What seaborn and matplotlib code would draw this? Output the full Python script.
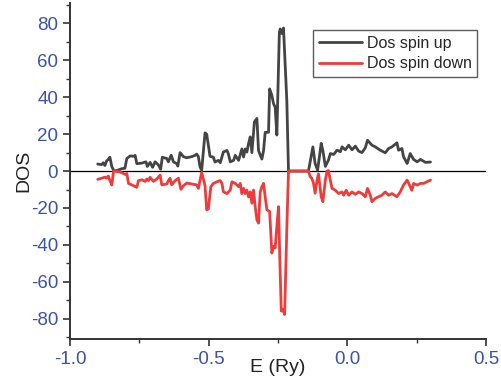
import numpy as np
import pandas as pd
import matplotlib
matplotlib.use("Agg")
import matplotlib.pyplot as plt
import seaborn as sns

# Spin up (E in Ry, DOS)
e_up = [-0.900, -0.886, -0.880, -0.874, -0.868, -0.862, -0.856, -0.849, -0.841, -0.827,
        -0.813, -0.802, -0.795, -0.783, -0.771, -0.765, -0.759, -0.741, -0.726, -0.721,
        -0.711, -0.702, -0.693, -0.681, -0.673, -0.667, -0.651, -0.645, -0.635, -0.627,
        -0.615, -0.611, -0.603, -0.591, -0.579, -0.561, -0.549, -0.543, -0.537, -0.531,
        -0.525, -0.513, -0.507, -0.495, -0.483, -0.477, -0.465, -0.458, -0.447, -0.434,
        -0.429, -0.422, -0.410, -0.404, -0.392, -0.380, -0.374, -0.368, -0.362, -0.356,
        -0.350, -0.344, -0.335, -0.326, -0.320, -0.308, -0.302, -0.296, -0.284, -0.280,
        -0.272, -0.266, -0.260, -0.254, -0.245, -0.242, -0.236, -0.230, -0.218, -0.212,
        -0.140, -0.124, -0.116, -0.107, -0.094, -0.088, -0.079, -0.068, -0.061, -0.049,
        -0.037, -0.025, -0.019, -0.007, 0.005, 0.017, 0.029, 0.041, 0.053, 0.065,
        0.073, 0.089, 0.101, 0.119, 0.137, 0.149, 0.161, 0.179, 0.185, 0.197,
        0.203, 0.216, 0.227, 0.239, 0.252, 0.264, 0.282, 0.300]
dos_up = [3.8, 3.5, 4.5, 3.0, 5.5, 6.3, 7.5, 2.3, 0.0, 0.5,
          1.3, 1.5, 6.8, 8.2, 8.0, 8.5, 4.0, 4.3, 5.0, 2.5,
          4.7, 2.0, 5.0, 3.3, 1.0, 7.5, 6.8, 5.0, 8.6, 5.0,
          4.0, 2.7, 10.0, 7.8, 7.2, 7.8, 8.5, 9.2, 7.8, 2.2,
          0.5, 20.7, 20.0, 8.0, 7.5, 4.9, 5.8, 4.5, 10.3, 11.2,
          9.4, 5.0, 5.8, 8.5, 5.8, 12.0, 7.6, 12.0, 10.3, 14.9,
          18.5, 10.0, 26.6, 28.5, 11.0, 6.5, 11.0, 21.0, 21.0, 44.5,
          41.0, 36.5, 34.6, 19.5, 75.0, 77.0, 74.5, 77.5, 38.0, 0.0,
          0.0, 13.1, 4.1, 0.5, 15.0, 11.0, 2.5, 5.9, 9.5, 9.0,
          11.3, 10.5, 13.1, 11.5, 14.0, 11.5, 13.5, 10.8, 10.0, 12.6,
          16.7, 14.0, 13.1, 11.3, 9.9, 12.2, 13.1, 15.3, 11.3, 12.2,
          7.7, 4.1, 9.5, 6.3, 5.0, 6.3, 4.7, 4.9]

# Spin down (E in Ry, DOS)
e_dn = [-0.900, -0.886, -0.874, -0.868, -0.862, -0.856, -0.849, -0.843, -0.826, -0.813,
        -0.801, -0.795, -0.789, -0.777, -0.765, -0.759, -0.753, -0.741, -0.729, -0.723,
        -0.717, -0.711, -0.699, -0.687, -0.675, -0.669, -0.651, -0.645, -0.639, -0.633,
        -0.621, -0.609, -0.600, -0.591, -0.579, -0.561, -0.543, -0.537, -0.525, -0.513,
        -0.507, -0.501, -0.492, -0.483, -0.470, -0.458, -0.452, -0.447, -0.434, -0.422,
        -0.416, -0.404, -0.392, -0.386, -0.380, -0.374, -0.368, -0.362, -0.356, -0.350,
        -0.344, -0.338, -0.332, -0.326, -0.320, -0.314, -0.308, -0.302, -0.296, -0.290,
        -0.280, -0.272, -0.266, -0.260, -0.254, -0.248, -0.242, -0.238, -0.232, -0.226,
        -0.218, -0.212, -0.140, -0.134, -0.128, -0.122, -0.116, -0.109, -0.104, -0.094,
        -0.088, -0.079, -0.073, -0.068, -0.061, -0.055, -0.043, -0.031, -0.019, -0.013,
        -0.004, 0.005, 0.017, 0.029, 0.041, 0.053, 0.065, 0.073, 0.083, 0.089,
        0.101, 0.113, 0.125, 0.137, 0.149, 0.161, 0.179, 0.191, 0.203, 0.216,
        0.227, 0.233, 0.239, 0.252, 0.264, 0.275, 0.300]
dos_dn = [-4.5, -3.9, -3.3, -3.9, -2.7, -5.2, -7.5, 0.0, -0.3, -0.9,
          -1.8, -1.3, -6.7, -7.5, -8.4, -8.8, -5.2, -4.7, -5.6, -4.3,
          -5.2, -3.4, -5.6, -4.3, -2.2, -7.5, -7.0, -5.2, -3.9, -7.5,
          -5.2, -3.9, -9.9, -8.0, -6.5, -7.0, -7.5, -9.4, -0.7, -8.0,
          -21.0, -20.5, -8.5, -6.7, -5.8, -5.2, -6.7, -11.2, -12.2, -10.3,
          -5.8, -6.7, -8.4, -6.7, -12.2, -9.4, -12.2, -10.3, -14.0, -11.3,
          -17.4, -10.3, -19.4, -26.4, -28.2, -11.3, -8.5, -6.7, -14.0, -21.0,
          -21.9, -44.4, -40.8, -41.7, -30.0, -19.3, -55.0, -75.9, -74.9, -77.7,
          -31.0, 0.0, 0.0, -3.0, -3.9, -6.5, -12.0, -5.0, -1.5, -13.9,
          -16.6, -4.9, 0.0, 0.3, -5.0, -9.4, -10.4, -12.2, -11.3, -13.1,
          -10.4, -13.1, -11.3, -12.6, -11.3, -12.2, -14.0, -9.4, -13.1, -16.6,
          -14.8, -13.9, -13.1, -11.3, -13.1, -12.2, -13.9, -11.3, -7.5, -4.9,
          -8.5, -10.4, -6.7, -7.6, -6.7, -6.7, -4.9]

series_names = ["Dos spin up", "Dos spin down"]
x_ticks = [-1.0, -0.5, 0.0, 0.5]
y_ticks = [-80, -60, -40, -20, 0, 20, 40, 60, 80]

df = pd.concat([
    pd.DataFrame({"E": e_up, "DOS": dos_up, "series": series_names[0]}),
    pd.DataFrame({"E": e_dn, "DOS": dos_dn, "series": series_names[1]}),
], ignore_index=True)

sns.set_style("ticks")
plt.rcParams["font.family"] = ["Liberation Sans", "DejaVu Sans"]

fig = plt.figure(figsize=(5.02, 3.87), dpi=100)
ax = fig.add_axes([0.1394, 0.124, 0.8286, 0.868])

palette = {series_names[0]: "#444444", series_names[1]: "#ee3b3b"}
sns.lineplot(data=df, x="E", y="DOS", hue="series", palette=palette,
             sort=False, estimator=None, linewidth=2.0, ax=ax)
ax.axhline(0, color="black", linewidth=0.9, zorder=0)

ax.set_xlim(-1.0, 0.5)
ax.set_ylim(-91, 91)
ax.set_xticks(x_ticks)
ax.set_xticklabels([f"{v:.1f}" for v in x_ticks])
ax.set_yticks(y_ticks)
ax.set_yticklabels([str(v) for v in y_ticks])
ax.set_xticks([-0.75, -0.25, 0.25], minor=True)
ax.set_yticks(list(range(-90, 91, 20)), minor=True)

tick_color = "#3a53a4"
ax.tick_params(axis="both", which="major", direction="out", length=5, width=1.2,
               colors="#333333", labelcolor=tick_color, labelsize=13.5)
ax.tick_params(axis="both", which="minor", direction="out", length=3, width=1.0,
               colors="#333333")
for s in ["top", "right"]:
    ax.spines[s].set_visible(False)
for s in ["left", "bottom"]:
    ax.spines[s].set_linewidth(1.4)
    ax.spines[s].set_color("#333333")

ax.set_xlabel("E (Ry)", fontsize=14, color="#222222")
ax.set_ylabel("DOS", fontsize=14, color="#222222")
ax.xaxis.set_label_coords(0.5, -0.06)
ax.yaxis.set_label_coords(-0.09, 0.5)

leg = ax.legend(loc="upper left", bbox_to_anchor=(0.585, 0.92), frameon=True,
                fancybox=False, edgecolor="#333333", fontsize=11.5,
                handlelength=2.7, handletextpad=0.3, borderpad=0.35,
                labelspacing=0.35, borderaxespad=0)
leg.get_frame().set_linewidth(1.0)
leg.set_title(None)

fig.savefig("out.png", dpi=100)
